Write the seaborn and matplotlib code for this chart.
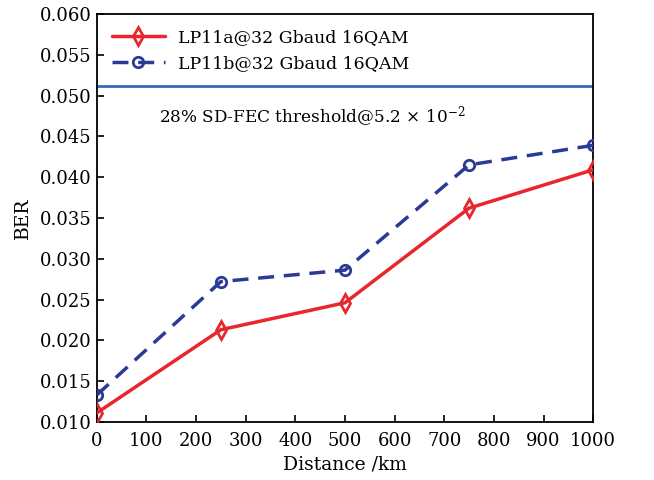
import numpy as np
import pandas as pd
import matplotlib
matplotlib.use("Agg")
import matplotlib.pyplot as plt
import seaborn as sns

distance = [0, 250, 500, 750, 1000]
ber_lp11a = [0.0111, 0.0213, 0.0246, 0.0362, 0.0409]
ber_lp11b = [0.0133, 0.0272, 0.0286, 0.0415, 0.0439]
threshold = 0.0512
label_a = "LP11a@32 Gbaud 16QAM"
label_b = "LP11b@32 Gbaud 16QAM"
x_ticks = list(range(0, 1001, 100))
y_ticks = [0.010, 0.015, 0.020, 0.025, 0.030, 0.035, 0.040, 0.045, 0.050, 0.055, 0.060]

sns.set_style("ticks")
plt.rcParams['font.family'] = ['DejaVu Serif']
plt.rcParams['mathtext.fontset'] = 'dejavuserif'
for k in ['text.color', 'axes.labelcolor', 'xtick.color', 'ytick.color',
          'xtick.labelcolor', 'ytick.labelcolor']:
    plt.rcParams[k] = 'black'

fig = plt.figure(figsize=(6.54, 4.8), dpi=100)
ax = fig.add_axes([0.148, 0.121, 0.759, 0.850])

df_a = pd.DataFrame({"Distance": distance, "BER": ber_lp11a})
df_b = pd.DataFrame({"Distance": distance, "BER": ber_lp11b})

red = "#e8262b"
blue = "#2b3a94"
sns.lineplot(data=df_a, x="Distance", y="BER", ax=ax, color=red, lw=2.5,
             marker="d", markersize=9, markerfacecolor="none", markeredgecolor=red,
             markeredgewidth=2, label=label_a, zorder=3)
sns.lineplot(data=df_b, x="Distance", y="BER", ax=ax, color=blue, lw=2.5,
             linestyle=(0, (4.6, 2.8)), marker="o", markersize=7.5, markerfacecolor="none",
             markeredgecolor=blue, markeredgewidth=2, label=label_b, zorder=3)
ax.axhline(threshold, color="#2f6db5", lw=2)

ax.text(125, 0.0467, r"28% SD-FEC threshold@5.2$\,\times\,10^{-2}$", fontsize=12.2)

ax.set_xlim(0, 1000)
ax.set_ylim(0.010, 0.060)
ax.set_xticks(x_ticks)
ax.set_yticks(y_ticks)
ax.set_yticklabels([f"{v:.3f}" for v in y_ticks])
ax.tick_params(direction="in", labelsize=13, length=5, width=1.2)
ax.tick_params(axis="x", pad=7)
ax.set_xlabel("Distance /km", fontsize=13.5, labelpad=4)
ax.set_ylabel("BER", fontsize=13.5, labelpad=6)
for s in ax.spines.values():
    s.set_linewidth(1.3)
    s.set_color("black")

leg = ax.legend(loc="upper left", frameon=False, fontsize=12.5, handlelength=3,
                bbox_to_anchor=(0.0, 1.0))

fig.savefig("out.png", dpi=100)
